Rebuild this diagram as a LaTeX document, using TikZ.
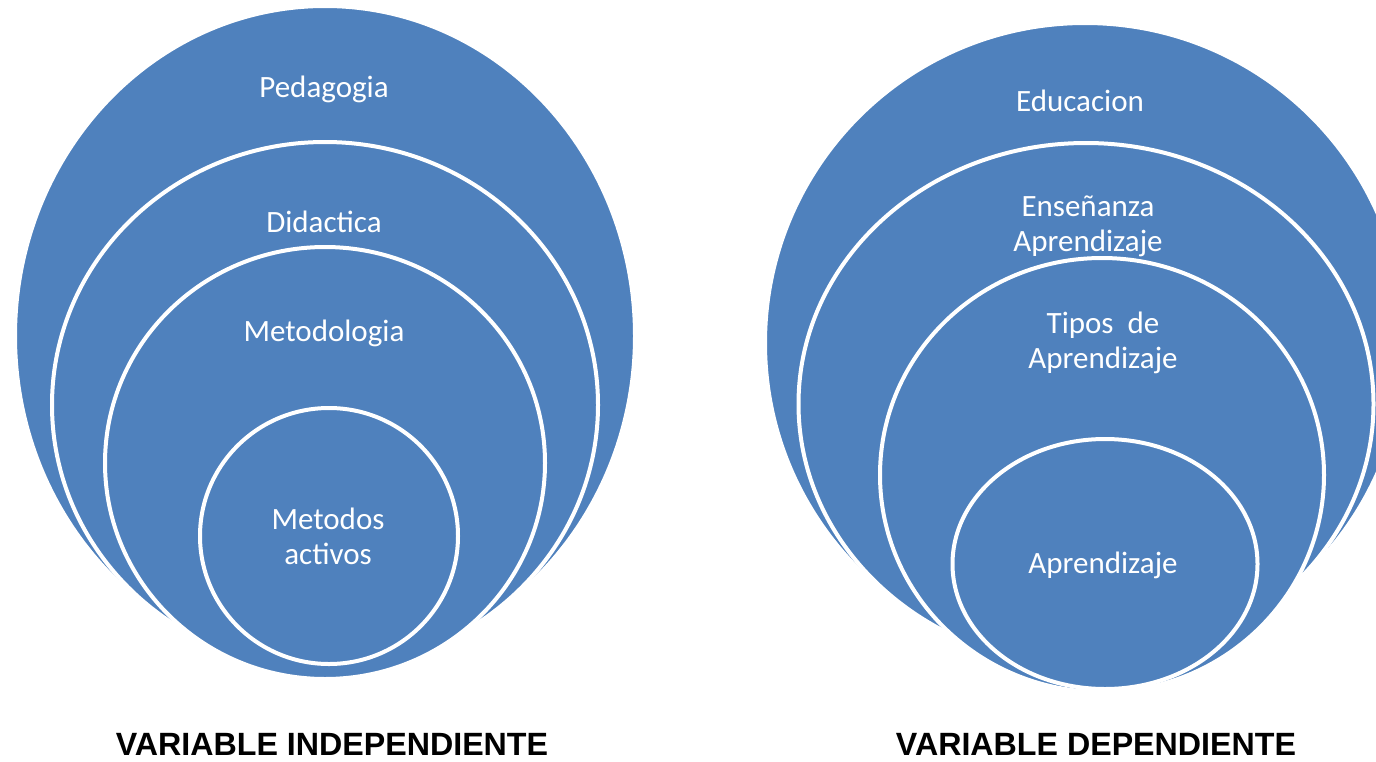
\documentclass[tikz,border=0pt]{standalone}
\usepackage{fontspec}
\setmainfont{Carlito}
\newfontfamily\titlefont{Liberation Sans}
\usetikzlibrary{shapes.geometric}
\definecolor{ringblue}{RGB}{79,129,189}

\begin{document}
\begin{tikzpicture}[x=1pt,y=-1pt,
	ring/.style={ellipse,fill=ringblue,draw=white,line width=4pt,inner sep=0pt},
	lbl/.style={text=white,font=\fontsize{31}{35}\selectfont,align=center},
	title/.style={font=\titlefont\bfseries\fontsize{32.2}{36}\selectfont}]
				\clip (0,0) rectangle (1376,761);

				% variable independiente
				\node[ring,minimum width=620,minimum height=660] (ped) at (325,336) {};
				\node[ring,minimum width=546,minimum height=526] (did) at (325,405) {};
				\node[ring,minimum width=440,minimum height=432] (met) at (325,463) {};
				\node[ring,minimum width=258,minimum height=256] (act) at (329,536) {};
				\node[lbl] (tped) at (324,89) {Pedagogia};
				\node[lbl] (tdid) at (324,222) {Didactica};
				\node[lbl] (tmet) at (324,333) {Metodologia};
				\node[lbl] (tact) at (328,536) {Metodos\\activos};

				% variable dependiente
				\node[ring,minimum width=640,minimum height=640] (edu) at (1085,343) {};
				\node[ring,minimum width=575,minimum height=522] (ens) at (1086,404) {};
				\node[ring,minimum width=444,minimum height=434] (tip) at (1102,475) {};
				\node[ring,minimum width=305,minimum height=250] (apr) at (1105,564) {};
				\node[lbl] (tedu) at (1080,101) {Educacion};
				\node[lbl] (tens) at (1088,226) {Enseñanza\\Aprendizaje};
				\node[lbl] (ttip) at (1103,343) {Tipos~ de\\Aprendizaje};
				\node[lbl] (tapr) at (1103,565) {Aprendizaje};

				\node[title] (indep) at (332,744) {VARIABLE INDEPENDIENTE};
				\node[title] (dep) at (1096,744) {VARIABLE DEPENDIENTE};
\end{tikzpicture}
\end{document}
